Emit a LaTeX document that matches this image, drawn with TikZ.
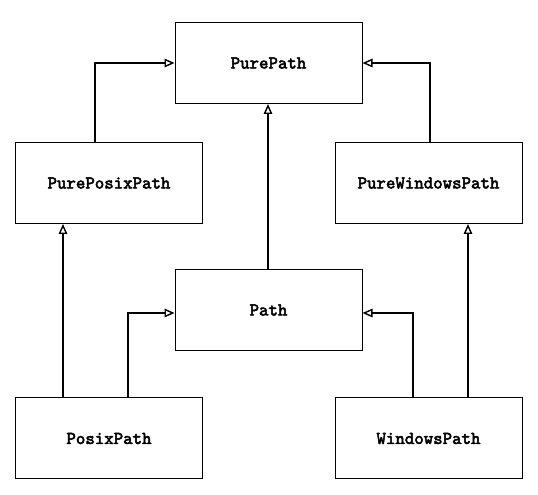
\documentclass[tikz,border=0pt]{standalone}
\usepackage{fontspec}
\newfontfamily\clsfont{lmmono10-regular.otf}[FakeBold=2.8]
\usetikzlibrary{arrows.meta}

\begin{document}
\begin{tikzpicture}[x=1pt, y=1pt,
cls/.style={rectangle, draw=black, line width=1pt, fill=white, minimum width=187pt, minimum height=81pt, font=\fontsize{18}{20}\selectfont\clsfont\bfseries},
inh/.style={line width=1.9pt, -{Triangle[open, length=10pt, width=8.5pt, line width=1.4pt]}}
]
\useasboundingbox (0,0) rectangle (538,495);
%Nodes
\node[cls]      (ppath)     at (268.5,432)       {PurePath};
\node[cls]      (pposix)    at (109,312)         {PurePosixPath};
\node[cls]      (pwin)      at (428.5,312)       {PureWindowsPath};
\node[cls]      (path)      at (268.5,185)       {Path};
\node[cls]      (posix)     at (109,56.5)        {PosixPath};
\node[cls]      (win)       at (428.5,56.5)      {WindowsPath};
%Lines
\draw[inh] ([xshift=-14pt]pposix.north) |- (ppath.west);
\draw[inh] ([xshift=1.5pt]pwin.north) |- (ppath.east);
\draw[inh] ([xshift=-0.5pt]path.north) -- ([xshift=-0.5pt]ppath.south);
\draw[inh] ([xshift=-46pt]posix.north) -- ([xshift=-46pt]pposix.south);
\draw[inh] ([xshift=19pt]posix.north) |- ([yshift=-3pt]path.west);
\draw[inh] ([xshift=-15.5pt]win.north) |- ([yshift=-3pt]path.east);
\draw[inh] ([xshift=39.5pt]win.north) -- ([xshift=39.5pt]pwin.south);
\end{tikzpicture}
\end{document}
